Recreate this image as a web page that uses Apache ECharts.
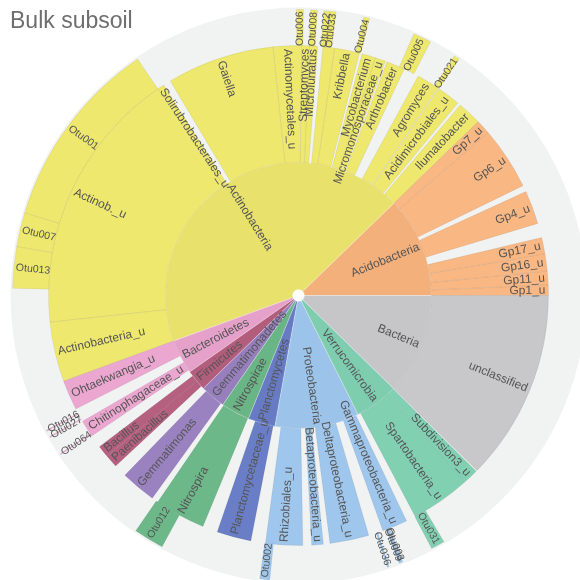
<!DOCTYPE html>
<html>
<head>
<meta charset="utf-8">
<script src="https://cdn.jsdelivr.net/npm/echarts@6/dist/echarts.min.js"></script>
<style>
  html, body { margin: 0; padding: 0; background: #ffffff; }
  #chart { width: 580px; height: 580px; }
</style>
</head>
<body>
<div id="chart"></div>
<script>
// Phylum level (inner ring), counter-clockwise from 3 o'clock
const phyla = ['Acidobacteria', 'Actinobacteria', 'Bacteroidetes', 'Firmicutes', 'Gemmatimonadetes',
  'Nitrospirae', 'Planctomycetes', 'Proteobacteria', 'Verrucomicrobia', 'Bacteria'];
const phylumColors = ['#f4b07b', '#e8e16c', '#e6a1ca', '#b25d7c', '#977fbe',
  '#6ab586', '#677bc4', '#9cc3e9', '#7fcdaf', '#c6c6c9'];
const genusColors = ['#f8b783', '#eee86e', '#eba7d0', '#b6607f', '#9a82c1',
  '#6db889', '#6a7ec7', '#9fc6ec', '#82d0b2', '#c8c8cb'];

// Lowest assigned taxon per phylum (relative abundance, %); null = share without a shown taxon
const genusNames = [
  ['Gp1_u', 'Gp11_u', 'Gp16_u', 'Gp17_u', null, 'Gp4_u', null, 'Gp6_u', 'Gp7_u'],
  ['Ilumatobacter', null, 'Acidimicrobiales_u', null, 'Agromyces', null, 'Arthrobacter', null,
   'Micromonosporaceae_u', 'Mycobacterium', null, 'Kribbella', '', null, 'Microlunatus', 'Streptomyces',
   'Actinomycetales_u', 'Gaiella', null, 'Solirubrobacterales_u', 'Actinob._u', 'Actinobacteria_u'],
  ['Ohtaekwangia_u', null, 'Chitinophagaceae_u', null],
  [null, 'Bacillus', 'Paenibacillus', null],
  [null, 'Gemmatimonas', null],
  [null, 'Nitrospira', null],
  [null, 'Planctomycetaceae_u', null],
  [null, 'Rhizobiales_u', null, 'Betaproteobacteria_u', null, 'Deltaproteobacteria_u', null, 'Gammaproteobacteria_u', null],
  [null, 'Spartobacteria_u', 'Subdivision3_u', null],
  ['unclassified']
];
const genusValues = [
  [0.67, 0.89, 1.11, 1.06, 0.92, 2.17, 0.42, 4.06, 0.94],
  [1.56, 0.19, 1.53, 0.06, 1.47, 1.00, 1.19, 0.11, 0.67, 0.89, 0.17, 1.61, 0.75, 0.33, 0.53, 0.50,
   1.83, 6.94, 0.50, 0.44, 17.19, 3.86],
  [1.94, 0.89, 1.11, 0.25],
  [0.58, 0.78, 0.83, 0.36],
  [0.47, 2.28, 0.31],
  [0.11, 3.28, 0.11],
  [0.86, 2.22, 0.22],
  [0.72, 2.39, 0.56, 0.75, 0.42, 2.53, 0.94, 1.64, 0.28],
  [0.33, 3.86, 1.00, 0.08],
  [12.33]
];

// Dominant OTUs (outer ring); null = remaining OTUs, not drawn
const otuNames = [null, 'Otu021', null, 'Otu005', null, 'Otu004', null, 'Otu033', 'Otu022', null,
  'Otu008', null, 'Otu006', null, 'Otu001', 'Otu007', 'Otu013', null, 'Otu016', null, 'Otu027', null,
  'Otu064', null, 'Otu012', null, 'Otu002', null, 'Otu036', null, 'Otu009', 'Otu003', null, 'Otu031', null];
const otuValues = [15.50, 0.33, 1.53, 1.03, 2.61, 0.33, 1.56, 0.33, 0.36, 0.36,
  0.39, 0.39, 0.39, 9.40, 10.83, 1.92, 2.33, 8.22, 0.06, 0.33, 0.06, 1.06,
  0.06, 5.98, 1.72, 5.75, 0.56, 6.63, 0.11, 0.58, 0.11, 0.11, 1.77, 0.78, 16.51];
const otuPhylum = [null, 1, null, 1, null, 1, null, 1, 1, null,
  1, null, 1, null, 1, 1, 1, null, 2, null, 2, null,
  2, null, 5, null, 7, null, 7, null, 7, 7, null, 8, null];

const FONT = '"Liberation Sans", Arial, sans-serif';
const CENTER = [298.5, 295.5];
const emptyStyle = { color: 'rgba(0,0,0,0)', borderWidth: 0 };

function blankNode(value) {
  return { name: '', value: value, itemStyle: emptyStyle, label: { show: false },
           emphasis: { disabled: true } };
}

const mainData = phyla.map((p, i) => ({
  name: p,
  itemStyle: { color: phylumColors[i] },
  children: genusNames[i].map((g, j) => g === null
    ? blankNode(genusValues[i][j])
    : { name: g, value: genusValues[i][j], itemStyle: { color: genusColors[i] } })
}));

const otuData = otuNames.map((n, k) => n === null
  ? blankNode(otuValues[k])
  : { name: n, value: otuValues[k], itemStyle: { color: genusColors[otuPhylum[k]] } });

const labelBase = {
  rotate: 'radial', align: 'right', position: 'inside', distance: 3, padding: 0,
  color: '#555', fontSize: 12, fontFamily: FONT
};

const chart = echarts.init(document.getElementById('chart'), null, { renderer: 'canvas' });
chart.setOption({
  animation: false,
  title: {
    text: 'Bulk subsoil', left: 5, top: 5,
    textStyle: { fontSize: 23, fontWeight: 'normal', color: '#6e6e6e', fontFamily: FONT }
  },
  series: [
    {
      type: 'pie', silent: true, z: 1, center: CENTER, radius: [6, 288],
      label: { show: false }, labelLine: { show: false }, emphasis: { disabled: true },
      data: [{ value: 1, itemStyle: { color: '#f1f2f2' } }]
    },
    {
      type: 'sunburst', z: 2, center: CENTER, radius: [6, 250],
      startAngle: 0, clockwise: false, sort: null, nodeClick: false,
      emphasis: { disabled: true },
      data: mainData,
      levels: [
        {},
        { r0: 6, r: 133, label: labelBase,
          itemStyle: { borderWidth: 0.6, borderColor: 'rgba(255,255,255,0.45)' } },
        { r0: 133, r: 250, label: labelBase,
          itemStyle: { borderWidth: 0.8, borderColor: 'rgba(0,0,0,0.07)' } }
      ]
    },
    {
      type: 'sunburst', z: 2, center: CENTER, radius: [250, 286],
      startAngle: 0, clockwise: false, sort: null, nodeClick: false,
      emphasis: { disabled: true },
      data: otuData,
      levels: [
        {},
        { r0: 250, r: 286, label: Object.assign({}, labelBase, { fontSize: 10.5, distance: 2 }),
          itemStyle: { borderWidth: 0.8, borderColor: 'rgba(0,0,0,0.07)' } }
      ]
    }
  ]
});
</script>
</body>
</html>
